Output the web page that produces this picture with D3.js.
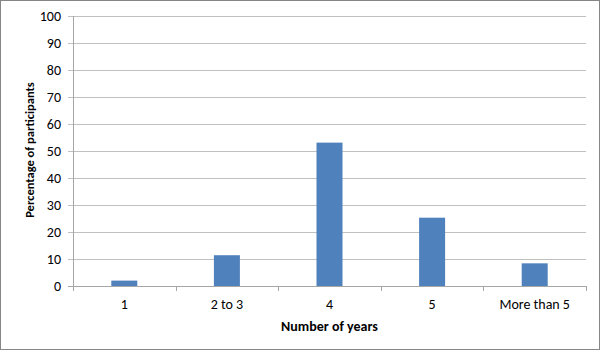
<!DOCTYPE html>
<html>
<head>
<meta charset="utf-8">
<script src="https://cdn.jsdelivr.net/npm/d3@7"></script>
<style>
  body { margin: 0; background: #fff; }
  text { font-family: Carlito, Lato, "Liberation Sans", sans-serif; fill: #000; }
</style>
</head>
<body>
<div class="chart"></div>
<script>
var categories = ["1", "2 to 3", "4", "5", "More than 5"];
var percentages = [2, 11.4, 53.1, 25.3, 8.4];
var yTicks = [0, 10, 20, 30, 40, 50, 60, 70, 80, 90, 100];

var svgWidth = 601;
var svgHeight = 351;

var margin = { top: 16, right: 15, bottom: 65, left: 73 };
var width = svgWidth - margin.left - margin.right;
var height = svgHeight - margin.top - margin.bottom;

var svg = d3.select(".chart")
  .append("svg")
  .attr("width", svgWidth)
  .attr("height", svgHeight);

// outer frame
svg.append("rect")
  .attr("x", 0.5)
  .attr("y", 0.5)
  .attr("width", svgWidth - 2)
  .attr("height", svgHeight - 2)
  .attr("fill", "#fff")
  .attr("stroke", "#868686");

var chartGroup = svg.append("g")
  .attr("transform", `translate(${margin.left}, ${margin.top})`);

var xScale = d3.scaleBand()
  .domain(categories)
  .range([0, width]);

var yScale = d3.scaleLinear()
  .domain([0, 100])
  .range([height, 0]);

// gridlines
chartGroup.selectAll(".grid")
  .data(yTicks)
  .enter()
  .append("line")
  .attr("x1", -5)
  .attr("x2", width)
  .attr("y1", d => Math.round(yScale(d)) + 0.5)
  .attr("y2", d => Math.round(yScale(d)) + 0.5)
  .attr("stroke", d => d === 0 ? "#a6a6a6" : "#c0c0c0")
  .attr("stroke-width", 1);

// y axis line
chartGroup.append("line")
  .attr("x1", 0.5).attr("x2", 0.5)
  .attr("y1", 0).attr("y2", height)
  .attr("stroke", "#a6a6a6");

// y tick labels
chartGroup.selectAll(".ylab")
  .data(yTicks)
  .enter()
  .append("text")
  .attr("x", -12)
  .attr("y", d => yScale(d))
  .attr("dy", "0.35em")
  .attr("text-anchor", "end")
  .attr("font-size", "14px")
  .attr("fill", "#262626")
  .text(d => d);

// x ticks
chartGroup.selectAll(".xtick")
  .data(categories.concat(["_end"]))
  .enter()
  .append("line")
  .attr("x1", (d, i) => Math.round(i * xScale.bandwidth()) + 0.5)
  .attr("x2", (d, i) => Math.round(i * xScale.bandwidth()) + 0.5)
  .attr("y1", height)
  .attr("y2", height + 5)
  .attr("stroke", "#a6a6a6");

// bars
var barWidth = 26;
chartGroup.selectAll("rect.bar")
  .data(percentages)
  .enter()
  .append("rect")
  .attr("class", "bar")
  .attr("x", (d, i) => xScale(categories[i]) + xScale.bandwidth() / 2 - barWidth / 2)
  .attr("y", d => yScale(d))
  .attr("width", barWidth)
  .attr("height", d => height - yScale(d))
  .attr("fill", "#4f81bd");

// x labels
chartGroup.selectAll(".xlab")
  .data(categories)
  .enter()
  .append("text")
  .attr("x", d => xScale(d) + xScale.bandwidth() / 2)
  .attr("y", height + 18)
  .attr("dy", "0.35em")
  .attr("text-anchor", "middle")
  .attr("font-size", "14px")
  .attr("fill", "#262626")
  .text(d => d);

// axis titles
chartGroup.append("text")
  .attr("x", width / 2)
  .attr("y", height + 40)
  .attr("dy", "0.35em")
  .attr("text-anchor", "middle")
  .attr("font-size", "14px")
  .attr("font-weight", "bold")
  .text("Number of years");

chartGroup.append("text")
  .attr("transform", "rotate(-90)")
  .attr("x", -height / 2 + 1)
  .attr("y", -43)
  .attr("dy", "0.35em")
  .attr("text-anchor", "middle")
  .attr("font-size", "12.5px")
  .attr("font-weight", "bold")
  .text("Percentage of participants");
</script>
</body>
</html>
